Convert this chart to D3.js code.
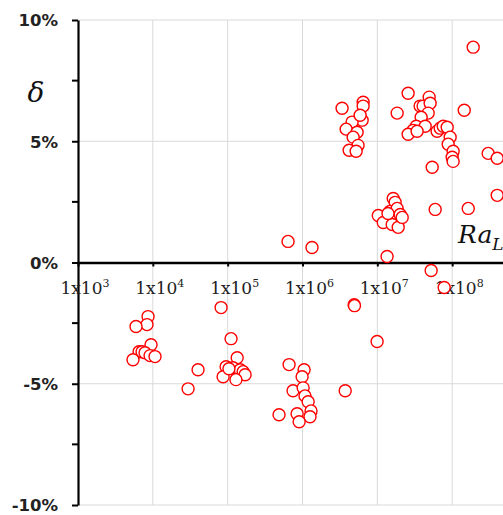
<!DOCTYPE html>
<html>
<head>
<meta charset="utf-8">
<script src="https://cdn.jsdelivr.net/npm/d3@7"></script>
<style>
  html, body { margin: 0; padding: 0; background: #fff; overflow: hidden; }
  svg { display: block; }
</style>
</head>
<body>
<svg id="chart" width="503" height="515"></svg>
<script>
// Rayleigh number (x) and deviation delta in % (y)
const raValues = [
  3.38e6, 6.46e6, 6.46e6, 6.27e6, 4.60e6, 3.83e6, 5.37e6, 4.75e6, 5.53e6, 4.20e6, 5.21e6, 5.89e6,
  2.58e7, 1.84e7, 3.73e7, 4.09e7, 4.93e7, 5.08e7, 4.78e7, 3.85e7, 3.31e7, 3.01e7, 2.58e7, 4.36e7,
  3.40e7, 6.29e7, 6.92e7, 7.59e7, 8.58e7, 9.40e7, 8.85e7, 1.03e8, 1.00e8, 1.03e8, 1.45e8, 1.91e8,
  3.03e8, 4.00e8, 5.41e7, 4.00e8, 5.93e7, 1.64e8,
  1.03e7, 1.20e7, 1.58e7, 1.63e7, 1.73e7, 1.48e7, 1.84e7, 2.02e7, 1.90e7, 1.39e7, 2.15e7,
  6.41e5, 1.34e6, 1.35e7, 5.24e7, 7.82e7,
  8.63e3, 8.36e3, 5.96e3, 9.46e3, 6.55e3, 7.18e3, 7.87e3, 5.43e3, 9.18e3, 1.07e4,
  8.17e4, 1.11e5, 1.34e5, 9.53e4, 8.69e4, 1.18e5, 1.47e5, 1.61e5, 1.71e5, 1.29e5, 4.02e4, 2.96e4, 1.04e5,
  6.62e5, 1.05e6, 9.88e5, 7.48e5, 1.02e6, 1.08e6, 1.19e6, 1.30e6, 1.26e6, 8.47e5, 9.02e5, 4.86e5,
  3.72e6, 4.90e6, 4.95e6, 9.93e6
];
const deltaValues = [
  6.36, 6.61, 6.45, 5.87, 5.79, 5.50, 5.37, 5.17, 4.83, 4.63, 4.59, 6.07,
  6.98, 6.16, 6.45, 6.45, 6.82, 6.57, 6.16, 5.99, 5.62, 5.45, 5.29, 5.62,
  5.41, 5.41, 5.54, 5.62, 5.58, 5.17, 4.88, 4.59, 4.34, 4.17, 6.28, 8.88,
  4.50, 4.30, 3.93, 2.77, 2.19, 2.23,
  1.94, 1.65, 1.57, 2.64, 2.48, 2.11, 2.23, 1.98, 1.45, 2.02, 1.86,
  0.87, 0.62, 0.25, -0.33, -1.03,
  -2.23, -2.56, -2.64, -3.39, -3.68, -3.68, -3.72, -4.01, -3.84, -3.88,
  -1.86, -3.14, -3.93, -4.30, -4.71, -4.34, -4.42, -4.50, -4.63, -4.83, -4.42, -5.21, -4.38,
  -4.21, -4.42, -4.71, -5.29, -5.17, -5.50, -5.74, -6.12, -6.36, -6.24, -6.57, -6.28,
  -5.29, -1.74, -1.78, -3.26
];
const xTickExponents = [3, 4, 5, 6, 7, 8];
const yMajorTicks = [-10, -5, 0, 5, 10];
const yMinorTicks = [-7.5, -2.5, 2.5, 7.5];
const yLabel = "δ";
const xLabelMain = "Ra";
const xLabelSub = "L";

const svg = d3.select("#chart");
const plotLeft = 78, plotTop = 20, plotBottom = 505, plotRight = 527;

const x = d3.scaleLog().domain([1e3, 1e9]).range([plotLeft, plotRight]);
const y = d3.scaleLinear().domain([-10, 10]).range([plotBottom, plotTop]);

// gridlines
const grid = svg.append("g").attr("stroke", "#d9d9d9").attr("stroke-width", 1);
grid.selectAll("line.v").data(xTickExponents.slice(1)).join("line")
  .attr("class", "v")
  .attr("x1", d => x(Math.pow(10, d))).attr("x2", d => x(Math.pow(10, d)))
  .attr("y1", plotTop).attr("y2", plotBottom);
grid.selectAll("line.h").data(yMajorTicks.filter(d => d !== 0)).join("line")
  .attr("class", "h")
  .attr("x1", plotLeft).attr("x2", plotRight)
  .attr("y1", d => y(d)).attr("y2", d => y(d));

// y axis
const yAxis = d3.axisLeft(y)
  .tickValues(yMajorTicks)
  .tickSize(6).tickSizeOuter(0).tickPadding(14)
  .tickFormat(d => d + "%");
const gy = svg.append("g").attr("transform", `translate(${plotLeft},0)`).call(yAxis);
gy.select(".domain").attr("stroke", "#000").attr("stroke-width", 2.2);
gy.selectAll(".tick line").attr("stroke", "#000").attr("stroke-width", 2);
gy.selectAll(".tick text")
  .attr("font-family", "DejaVu Sans").attr("font-weight", "bold")
  .attr("font-size", 16.5).attr("fill", "#222")
  .attr("dy", "0.36em");
svg.append("g").selectAll("line").data(yMinorTicks).join("line")
  .attr("x1", plotLeft - 6).attr("x2", plotLeft)
  .attr("y1", d => y(d)).attr("y2", d => y(d))
  .attr("stroke", "#000").attr("stroke-width", 2);

// x axis at y = 0
const xAxis = d3.axisBottom(x)
  .tickValues(xTickExponents.map(e => Math.pow(10, e)))
  .tickSize(4).tickSizeOuter(0).tickFormat("");
const gx = svg.append("g").attr("transform", `translate(0,${y(0)})`).call(xAxis);
gx.select(".domain").attr("stroke", "#000").attr("stroke-width", 2.5);
gx.selectAll(".tick line").attr("stroke", "#000").attr("stroke-width", 2);

// x tick labels 1x10^n
const xl = svg.append("g").selectAll("text").data(xTickExponents).join("text")
  .attr("x", d => x(Math.pow(10, d)) + 7)
  .attr("y", y(0) + 31)
  .attr("text-anchor", "middle")
  .attr("font-family", "DejaVu Serif")
  .attr("font-size", 17)
  .attr("fill", "#222");
xl.append("tspan").text("1x10");
xl.append("tspan").attr("dy", -7).attr("font-size", 11).text(d => d);

// axis titles
svg.append("text")
  .attr("x", 36).attr("y", 102)
  .attr("text-anchor", "middle")
  .attr("font-family", "DejaVu Serif").attr("font-style", "italic")
  .attr("font-size", 28).attr("fill", "#111")
  .text(yLabel);
const rt = svg.append("text")
  .attr("x", 458).attr("y", 243)
  .attr("font-family", "DejaVu Serif").attr("font-style", "italic")
  .attr("font-size", 25).attr("fill", "#111");
rt.append("tspan").text(xLabelMain);
rt.append("tspan").attr("dy", 7).attr("font-size", 17).text(xLabelSub);

// points
const pts = raValues.map((r, i) => ({ ra: r, d: deltaValues[i] }));
svg.append("g").selectAll("circle").data(pts).join("circle")
  .attr("cx", p => x(p.ra)).attr("cy", p => y(p.d))
  .attr("r", 6)
  .attr("fill", "#fff")
  .attr("stroke", "#ff0000")
  .attr("stroke-width", 1.4);
</script>
</body>
</html>
